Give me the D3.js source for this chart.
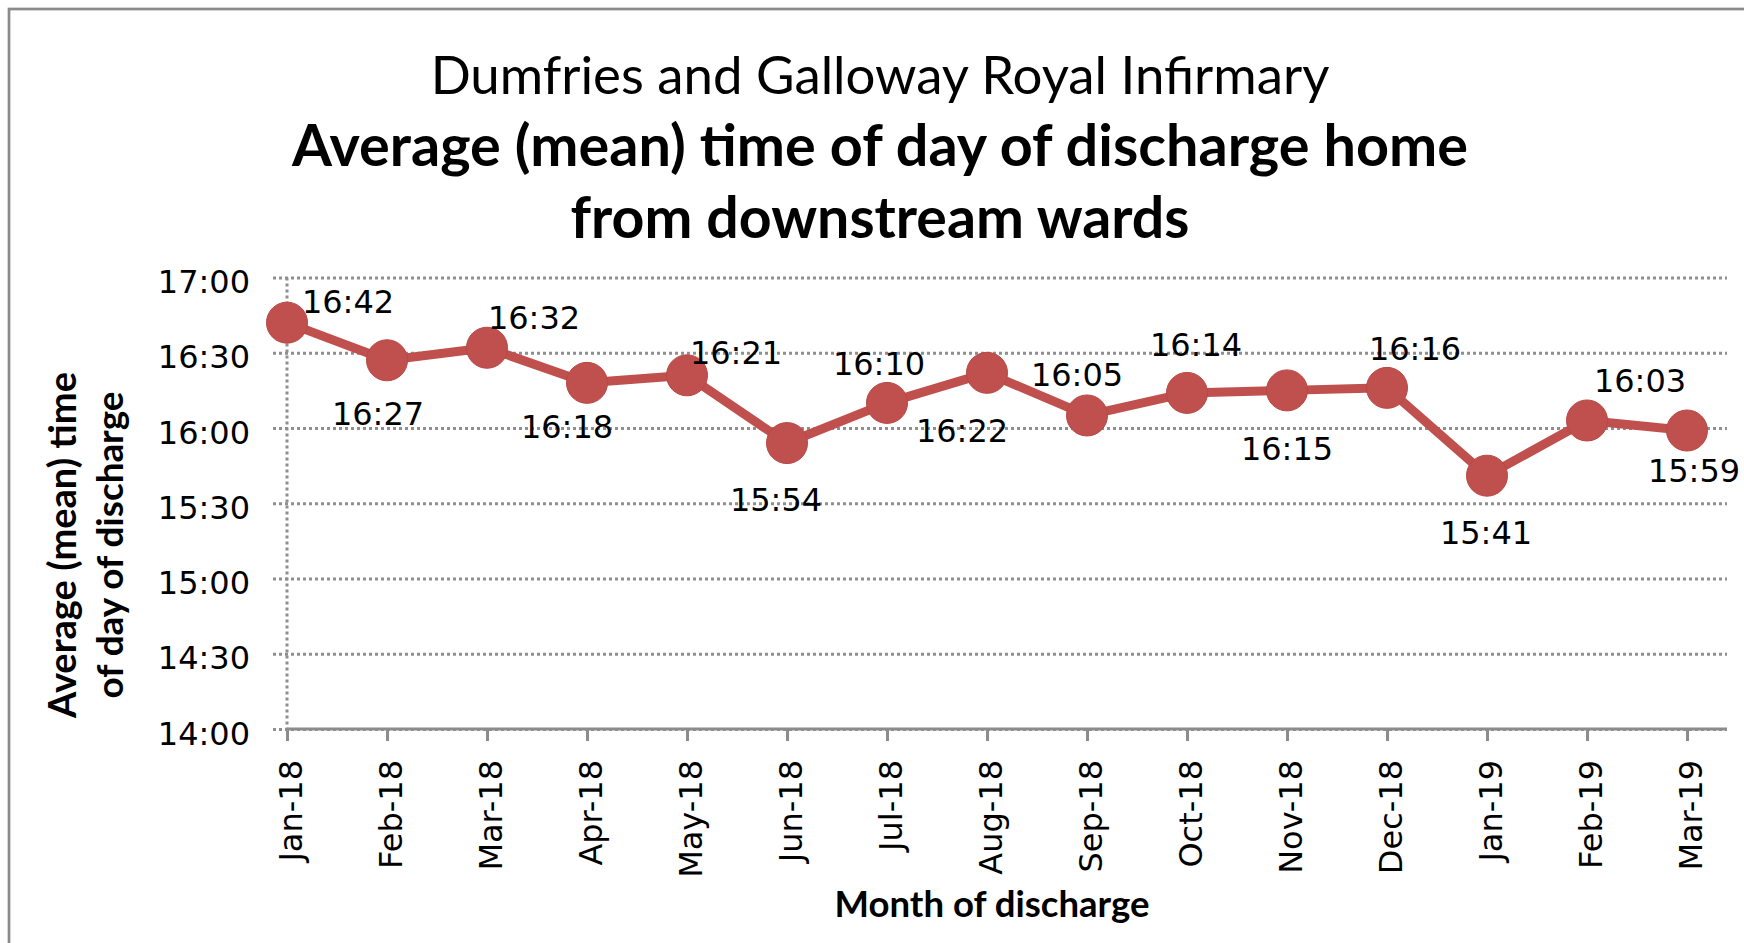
<script src="https://cdn.jsdelivr.net/npm/d3@7"></script>

<style>
  body { margin: 0; background: #fff; }
</style>

<div id="container"></div>

<script>
// months and average discharge time (hh:mm)
var months = ["Jan-18", "Feb-18", "Mar-18", "Apr-18", "May-18", "Jun-18", "Jul-18",
              "Aug-18", "Sep-18", "Oct-18", "Nov-18", "Dec-18", "Jan-19", "Feb-19", "Mar-19"];
var times = ["16:42", "16:27", "16:32", "16:18", "16:21", "15:54", "16:10",
             "16:22", "16:05", "16:14", "16:15", "16:16", "15:41", "16:03", "15:59"];
var yTicks = ["14:00", "14:30", "15:00", "15:30", "16:00", "16:30", "17:00"];

// label nudges [dx, dy of baseline] relative to each point
var labelOffsets = [[61, -10], [-9, 65], [47, -19], [-20, 55], [49, -11], [-11, 68], [-8, -28],
                    [-25, 69], [-10, -29], [9, -37], [0, 70], [28, -28], [-1, 68], [53, -28], [7, 51]];

var W = 1744, H = 943;
var red = "#C0504D";
var grey = "#8c8c8c";

function toMin(s) { var p = s.split(":"); return +p[0] * 60 + +p[1]; }

var svg = d3.select("#container").append("svg")
  .attr("width", W)
  .attr("height", H)
  .style("display", "block");

svg.append("rect").attr("width", W).attr("height", H).attr("fill", "#fff");

// chart frame (cut off on right and bottom)
svg.append("rect")
  .attr("x", 9).attr("y", 9)
  .attr("width", W + 20).attr("height", H + 20)
  .attr("fill", "none")
  .attr("stroke", "#8a8a8a")
  .attr("stroke-width", 2.7);

var plotLeft = 287, plotRight = 1727, gridLeft = 273;

var x = d3.scalePoint().domain(months).range([287, 1687]);
var y = d3.scaleLinear().domain([toMin("14:00"), toMin("17:00")]).range([729, 277.5]);

// fit text to a measured width
function fit(sel, w) {
  var l = sel.node().getComputedTextLength();
  var fs = parseFloat(sel.style("font-size"));
  sel.style("font-size", (fs * w / l) + "px");
}

// titles
var t1 = svg.append("text").attr("x", 880).attr("y", 94)
  .attr("text-anchor", "middle")
  .style("font-family", "Lato").style("font-size", "50px")
  .text("Dumfries and Galloway Royal Infirmary");
fit(t1, 899);
var t2 = svg.append("text").attr("x", 880).attr("y", 166)
  .attr("text-anchor", "middle")
  .style("font-family", "Lato").style("font-weight", "bold").style("font-size", "50px")
  .text("Average (mean) time of day of discharge home");
fit(t2, 1176);
var t3 = svg.append("text").attr("x", 880).attr("y", 238)
  .attr("text-anchor", "middle")
  .style("font-family", "Lato").style("font-weight", "bold").style("font-size", "50px")
  .text("from downstream wards");
fit(t3, 619);

// y axis with dotted gridlines
var yAxis = svg.append("g")
  .attr("transform", "translate(" + gridLeft + ",0)")
  .call(d3.axisLeft(y)
    .tickValues(yTicks.map(toMin))
    .tickSize(-(plotRight - gridLeft))
    .tickPadding(23)
    .tickFormat(function (d, i) { return yTicks[i]; }));
yAxis.select(".domain").remove();
yAxis.selectAll(".tick line")
  .attr("stroke", "#8f8f8f")
  .attr("stroke-width", 3)
  .attr("stroke-dasharray", "3,3");
yAxis.selectAll(".tick text")
  .attr("dy", "0.47em")
  .style("font-family", "DejaVu Sans")
  .style("font-size", "32px")
  .attr("fill", "#000");

// dotted vertical axis
svg.append("line")
  .attr("x1", plotLeft).attr("x2", plotLeft)
  .attr("y1", y.range()[1]).attr("y2", y.range()[0])
  .attr("stroke", "#8f8f8f")
  .attr("stroke-width", 3)
  .attr("stroke-dasharray", "3,3");

// x axis
var xAxis = svg.append("g")
  .attr("transform", "translate(0," + y.range()[0] + ")")
  .call(d3.axisBottom(x).tickSize(12).tickSizeOuter(0));
xAxis.select(".domain").remove();
xAxis.append("line")
  .attr("x1", plotLeft).attr("x2", plotRight)
  .attr("stroke", grey).attr("stroke-width", 3);
xAxis.selectAll(".tick line").attr("stroke", grey).attr("stroke-width", 3);
xAxis.selectAll(".tick text")
  .attr("x", 0).attr("y", 0)
  .attr("dy", "0.46em")
  .attr("transform", "translate(0,31) rotate(-90)")
  .attr("text-anchor", "end")
  .style("font-family", "DejaVu Sans")
  .style("font-size", "32px")
  .attr("fill", "#000");

// axis titles
var ya1 = svg.append("text")
  .attr("transform", "translate(76,545) rotate(-90)")
  .attr("text-anchor", "middle")
  .style("font-family", "Lato").style("font-weight", "bold").style("font-size", "35px")
  .text("Average (mean) time");
fit(ya1, 346);
var ya2 = svg.append("text")
  .attr("transform", "translate(123,545) rotate(-90)")
  .attr("text-anchor", "middle")
  .style("font-family", "Lato").style("font-weight", "bold").style("font-size", "35px")
  .text("of day of discharge");
fit(ya2, 307);
var xa = svg.append("text")
  .attr("x", 992).attr("y", 917)
  .attr("text-anchor", "middle")
  .style("font-family", "Lato").style("font-weight", "bold").style("font-size", "32px")
  .text("Month of discharge");
fit(xa, 315);

// series
var pts = months.map(function (m, i) { return { m: m, t: times[i], v: toMin(times[i]), off: labelOffsets[i] }; });

svg.append("path")
  .datum(pts)
  .attr("fill", "none")
  .attr("stroke", red)
  .attr("stroke-width", 9)
  .attr("stroke-linejoin", "round")
  .attr("d", d3.line()
    .x(function (d) { return x(d.m); })
    .y(function (d) { return y(d.v); }));

svg.append("g")
  .selectAll("circle")
  .data(pts)
  .enter()
  .append("circle")
    .attr("cx", function (d) { return x(d.m); })
    .attr("cy", function (d) { return y(d.v); })
    .attr("r", 20.5)
    .attr("fill", red)
    .attr("stroke", "#b84845")
    .attr("stroke-width", 1);

svg.append("g")
  .selectAll("text")
  .data(pts)
  .enter()
  .append("text")
    .attr("x", function (d) { return x(d.m) + d.off[0]; })
    .attr("y", function (d) { return y(d.v) + d.off[1]; })
    .attr("text-anchor", "middle")
    .style("font-family", "DejaVu Sans")
    .style("font-size", "32px")
    .text(function (d) { return d.t; });
</script>
